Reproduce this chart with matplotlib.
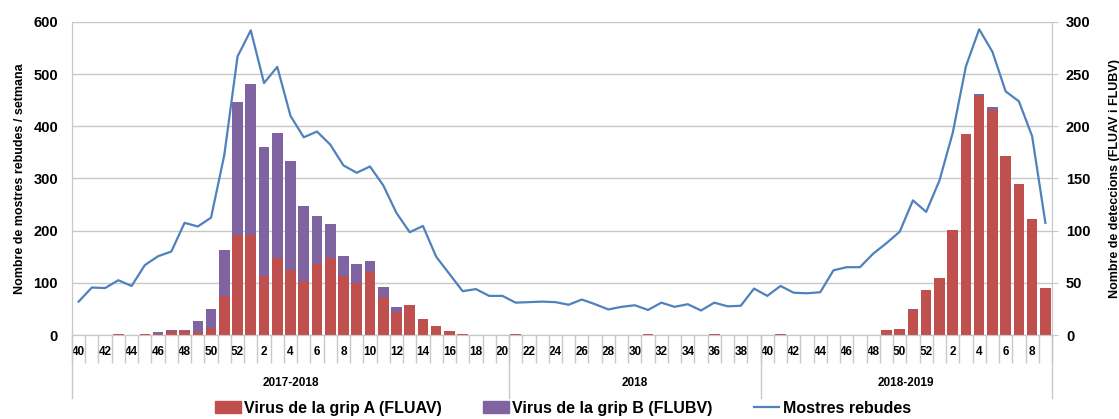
import matplotlib

matplotlib.use("Agg")
import matplotlib.pyplot as plt
import numpy as np
from matplotlib.lines import Line2D
from matplotlib.patches import Patch

plt.rcParams["font.family"] = ["Liberation Sans", "DejaVu Sans"]

# week numbers per category
weeks = list(range(40, 53)) + list(range(1, 21)) + list(range(21, 40)) + list(range(40, 53)) + list(range(1, 10))
seasons = ["2017-2018", "2018", "2018-2019"]
season_len = [33, 19, 22]

# detections of influenza A (FLUAV)
flu_a = [0, 0, 0, 1, 0, 1, 1, 4, 4, 3, 7, 37, 96,
         96, 57, 74, 62, 52, 68, 74, 57, 50, 60, 36, 22, 29, 15, 9, 4, 1, 0, 0, 0,
         1, 0, 0, 0, 0, 0, 0, 0, 0, 0, 1, 0, 0, 0, 0, 1, 0, 0, 0,
         0, 1, 0, 0, 0, 0, 0, 0, 0, 5, 6, 24, 43,
         55, 101, 193, 229, 216, 172, 145, 111, 45]

# detections of influenza B (FLUBV)
flu_b = [0, 0, 0, 0, 0, 0, 2, 1, 1, 10, 18, 44, 127,
         145, 123, 120, 105, 72, 46, 32, 19, 18, 11, 10, 5, 0, 0, 0, 0, 0, 0, 0, 0,
         0, 0, 0, 0, 0, 0, 0, 0, 0, 0, 0, 0, 0, 0, 0, 0, 0, 0, 0,
         0, 0, 0, 0, 0, 0, 0, 0, 0, 0, 0, 1, 0,
         0, 0, 0, 2, 3, 0, 0, 0, 0]

# samples received per week
samples = [64, 91, 90, 105, 94, 134, 151, 160, 215, 208, 225, 345, 534,
           584, 483, 514, 420, 379, 390, 365, 325, 311, 323, 287, 234, 197, 209, 150, 117, 84, 88, 75, 75,
           62, 63, 64, 63, 58, 68, 59, 49, 54, 57, 48, 62, 54, 59, 47, 62, 55, 56, 89,
           75, 94, 81, 80, 82, 124, 130, 130, 156, 176, 198, 258, 236,
           296, 387, 515, 586, 543, 467, 448, 381, 215]

RED = "#C0504D"
PURPLE = "#8064A2"
BLUE = "#4F81BD"
GRID = "#C8C8C8"

fig = plt.figure(figsize=(11.19, 4.19), dpi=100)
ax = fig.add_axes([72 / 1119, 84 / 419, 980 / 1119, 313 / 419])
ax2 = ax.twinx()
ax.set_zorder(ax2.get_zorder() + 1)
ax.patch.set_visible(False)

x = np.arange(len(weeks))

# bars on the right axis
ax2.bar(x, flu_a, width=0.8, color=RED, linewidth=0)
ax2.bar(x, flu_b, width=0.8, bottom=flu_a, color=PURPLE, linewidth=0)
ax2.set_ylim(0, 300)
ax2.set_yticks(range(0, 301, 50))
ax2.grid(axis="y", color=GRID, linewidth=1)
ax2.set_axisbelow(True)
ax2.tick_params(axis="y", length=4, color=GRID, pad=6, labelsize=10.5)
for lab in ax2.get_yticklabels():
    lab.set_fontweight("bold")
ax2.set_ylabel("Nombre de deteccions (FLUAV i FLUBV)", fontsize=9, fontweight="bold", labelpad=13)

# line on the left axis
ax.plot(x, samples, color=BLUE, linewidth=1.6)
ax.set_ylim(0, 600)
ax.set_yticks(range(0, 601, 100))
ax.tick_params(axis="y", length=0, pad=10, labelsize=10.5)
for lab in ax.get_yticklabels():
    lab.set_fontweight("bold")
ax.set_ylabel("Nombre de mostres rebudes / setmana", fontsize=9, fontweight="bold", labelpad=5)

ax.set_xlim(-0.5, len(weeks) - 0.5)
for a in (ax, ax2):
    a.spines["top"].set_visible(False)
    for s in ("left", "right", "bottom"):
        a.spines[s].set_color(GRID)

# week labels every other category, tick marks between categories
ax.set_xticks(x[::2])
ax.set_xticklabels([str(w) for w in weeks[::2]], fontsize=8.5, fontweight="bold")
ax.tick_params(axis="x", which="major", length=0, pad=8)
ax.set_xticks(np.arange(-0.5, len(weeks)), minor=True)
ax.tick_params(axis="x", which="minor", length=20, color=GRID, width=1)

# season groups
trans = ax.get_xaxis_transform()
edges = np.concatenate([[0], np.cumsum(season_len)]) - 0.5
for e in edges:
    ax.plot([e, e], [0, -0.2], transform=trans, color=GRID, linewidth=1, clip_on=False)
for name, lo, hi in zip(seasons, edges[:-1], edges[1:]):
    ax.text((lo + hi) / 2, -0.153, name, transform=trans, ha="center", va="center",
            fontsize=8.5, fontweight="bold")

handles = [
    Patch(color=RED, label="Virus de la grip A (FLUAV)"),
    Patch(color=PURPLE, label="Virus de la grip B (FLUBV)"),
    Line2D([], [], color=BLUE, linewidth=1.6, label="Mostres rebudes"),
]
fig.legend(handles=handles, loc="center", bbox_to_anchor=(0.503, 0.026), ncol=3,
           frameon=False, prop={"weight": "bold", "size": 11.5}, handlelength=1.6,
           handleheight=0.8, handletextpad=0.2, columnspacing=2.6)

fig.savefig("out.png", dpi=100)
